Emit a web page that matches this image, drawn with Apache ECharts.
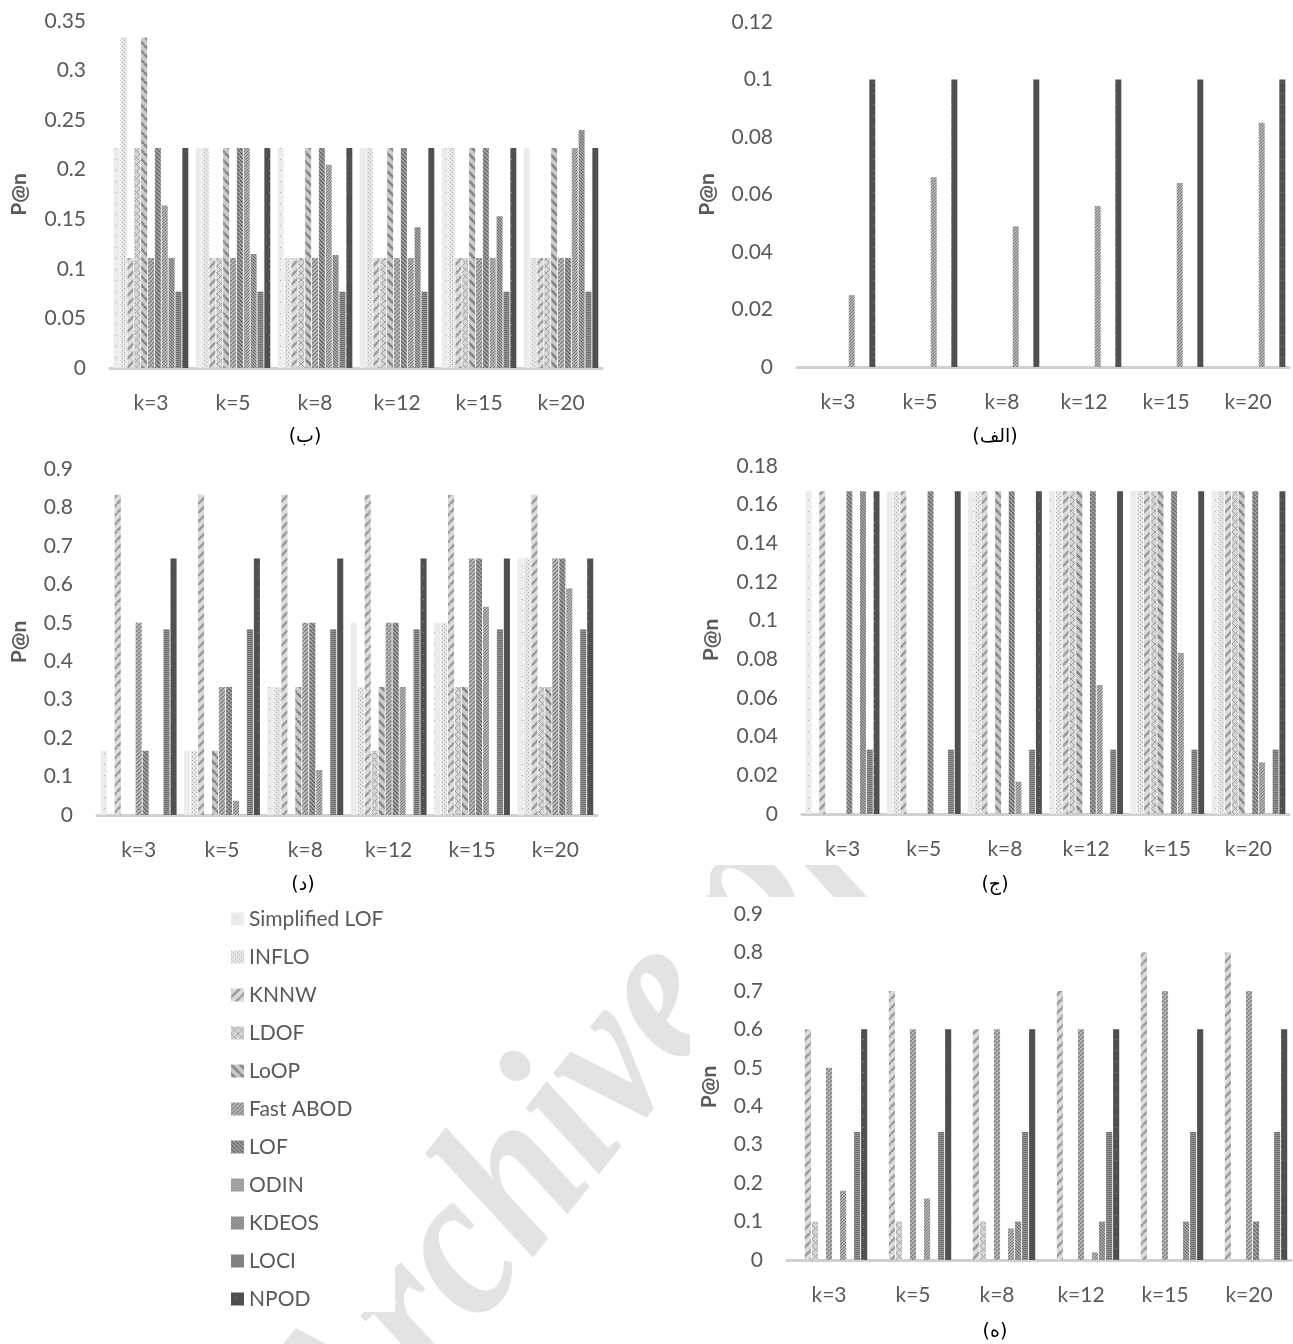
<!DOCTYPE html>
<html>
<head>
<meta charset="utf-8">
<script src="https://cdn.jsdelivr.net/npm/echarts@6/dist/echarts.min.js"></script>
<style>
html,body{margin:0;padding:0;background:#fff;}
#chart{width:1293px;height:1344px;}
</style>
</head>
<body>
<div id="chart"></div>
<script>
// ---------- data ----------
const categories = ['k=3', 'k=5', 'k=8', 'k=12', 'k=15', 'k=20'];
const methods = ['Simplified LOF', 'INFLO', 'KNNW', 'LDOF', 'LoOP', 'Fast ABOD', 'LOF', 'ODIN', 'KDEOS', 'LOCI', 'NPOD'];

// panel (ب) top-left
const valsB = [
  [0.222, 0.222, 0.222, 0.222, 0.222, 0.222],
  [0.333, 0.222, 0.111, 0.222, 0.222, 0.111],
  [0.111, 0.111, 0.111, 0.111, 0.111, 0.111],
  [0.222, 0.111, 0.111, 0.111, 0.111, 0.111],
  [0.333, 0.222, 0.222, 0.222, 0.222, 0.222],
  [0.111, 0.111, 0.111, 0.111, 0.111, 0.111],
  [0.222, 0.222, 0.222, 0.222, 0.222, 0.111],
  [0.164, 0.222, 0.205, 0.111, 0.111, 0.222],
  [0.111, 0.115, 0.114, 0.142, 0.153, 0.240],
  [0.077, 0.077, 0.077, 0.077, 0.077, 0.077],
  [0.222, 0.222, 0.222, 0.222, 0.222, 0.222]
];
// panel (الف) top-right
const valsA = [
  [0, 0, 0, 0, 0, 0],
  [0, 0, 0, 0, 0, 0],
  [0, 0, 0, 0, 0, 0],
  [0, 0, 0, 0, 0, 0],
  [0, 0, 0, 0, 0, 0],
  [0, 0, 0, 0, 0, 0],
  [0, 0, 0, 0, 0, 0],
  [0.025, 0.066, 0.049, 0.056, 0.064, 0.085],
  [0, 0, 0, 0, 0, 0],
  [0, 0, 0, 0, 0, 0],
  [0.1, 0.1, 0.1, 0.1, 0.1, 0.1]
];
// panel (د) middle-left
const valsD = [
  [0.167, 0.167, 0.333, 0.5, 0.5, 0.667],
  [0, 0.167, 0.333, 0.333, 0.5, 0.667],
  [0.833, 0.833, 0.833, 0.833, 0.833, 0.833],
  [0, 0, 0, 0.167, 0.333, 0.333],
  [0, 0.167, 0.333, 0.333, 0.333, 0.333],
  [0.5, 0.333, 0.5, 0.5, 0.667, 0.667],
  [0.167, 0.333, 0.5, 0.5, 0.667, 0.667],
  [0, 0.037, 0.117, 0.333, 0.542, 0.59],
  [0, 0, 0, 0, 0, 0],
  [0.483, 0.483, 0.483, 0.483, 0.483, 0.483],
  [0.667, 0.667, 0.667, 0.667, 0.667, 0.667]
];
// panel (ج) middle-right
const valsJ = [
  [0.167, 0.167, 0.167, 0.167, 0.167, 0.167],
  [0, 0.167, 0.167, 0.167, 0.167, 0.167],
  [0.167, 0.167, 0.167, 0.167, 0.167, 0.167],
  [0, 0, 0, 0.167, 0.167, 0.167],
  [0, 0, 0.167, 0.167, 0.167, 0.167],
  [0, 0, 0, 0, 0, 0],
  [0.167, 0.167, 0.167, 0.167, 0.167, 0.167],
  [0, 0, 0.0167, 0.0667, 0.0833, 0.0267],
  [0.167, 0, 0, 0, 0, 0],
  [0.0333, 0.0333, 0.0333, 0.0333, 0.0333, 0.0333],
  [0.167, 0.167, 0.167, 0.167, 0.167, 0.167]
];
// panel (ه) bottom-right
const valsH = [
  [0, 0, 0, 0, 0, 0],
  [0, 0, 0, 0, 0, 0],
  [0.6, 0.7, 0.6, 0.7, 0.8, 0.8],
  [0.1, 0.1, 0.1, 0, 0, 0],
  [0, 0, 0, 0, 0, 0],
  [0.5, 0.6, 0.6, 0.6, 0.7, 0.7],
  [0, 0, 0, 0, 0, 0.1],
  [0.18, 0.16, 0.082, 0.02, 0, 0],
  [0, 0, 0.1, 0.1, 0.1, 0],
  [0.333, 0.333, 0.333, 0.333, 0.333, 0.333],
  [0.6, 0.6, 0.6, 0.6, 0.6, 0.6]
];

// y tick labels of each panel
const ticksB = [0, 0.05, 0.1, 0.15, 0.2, 0.25, 0.3, 0.35];
const ticksA = [0, 0.02, 0.04, 0.06, 0.08, 0.1, 0.12];
const ticksD = [0, 0.1, 0.2, 0.3, 0.4, 0.5, 0.6, 0.7, 0.8, 0.9];
const ticksJ = [0, 0.02, 0.04, 0.06, 0.08, 0.1, 0.12, 0.14, 0.16, 0.18];
const ticksH = [0, 0.1, 0.2, 0.3, 0.4, 0.5, 0.6, 0.7, 0.8, 0.9];

const captions = ['(ب)', '(الف)', '(د)', '(ج)', '(ه)'];
const yName = 'P@n';
const watermark = 'Archive of SID';

// ---------- styles ----------
function pattern(bg, fg, kind, p, lw) {
  const c = document.createElement('canvas');
  c.width = p; c.height = p;
  const g = c.getContext('2d');
  g.fillStyle = bg; g.fillRect(0, 0, p, p);
  g.strokeStyle = fg; g.fillStyle = fg; g.lineWidth = lw;
  if (kind === 'fwd' || kind === 'cross') {
    g.beginPath();
    for (let k = -1; k <= 1; k++) { g.moveTo(k * p, p); g.lineTo(k * p + p, 0); }
    g.stroke();
  }
  if (kind === 'back' || kind === 'cross') {
    g.beginPath();
    for (let k = -1; k <= 1; k++) { g.moveTo(k * p, 0); g.lineTo(k * p + p, p); }
    g.stroke();
  }
  if (kind === 'horiz') { g.fillRect(0, 0, p, lw); }
  if (kind === 'dot') { g.fillRect(Math.floor(p / 2), Math.floor(p / 2), lw, lw); }
  if (kind === 'dots') { g.fillRect(0, 0, lw, lw); g.fillRect(p / 2, p / 2, lw, lw); }
  return { image: c, repeat: 'repeat' };
}
const fills = [
  pattern('#ececec', '#a8a8a8', 'dot', 11, 1),
  pattern('#e6e6e6', '#a9a9a9', 'dots', 4, 1),
  pattern('#dcdcdc', '#9c9c9c', 'fwd', 9, 2.6),
  pattern('#d6d6d6', '#a2a2a2', 'cross', 7, 1),
  pattern('#cacaca', '#858585', 'back', 9, 2.6),
  pattern('#c0c0c0', '#7c7c7c', 'fwd', 4, 1.3),
  pattern('#a8a8a8', '#666666', 'back', 4, 1.4),
  pattern('#b4b4b4', '#7a7a7a', 'fwd', 3, 1),
  pattern('#a3a3a3', '#6c6c6c', 'back', 3, 1),
  pattern('#959595', '#6e6e6e', 'horiz', 2, 1),
  pattern('#505050', '#8f8f8f', 'dot', 11, 1)
];

const FONT = 'Lato, "Open Sans", sans-serif';
const TXT = '#595959';
const panels = [
  { vals: valsB, ticks: ticksB, grid: { left: 110, top: 21, width: 492, height: 347 }, gap: 80, cap: [305, 437] },
  { vals: valsA, ticks: ticksA, grid: { left: 797, top: 22, width: 492, height: 345 }, gap: 79, cap: [995, 437] },
  { vals: valsD, ticks: ticksD, grid: { left: 97, top: 469, width: 500, height: 346 }, gap: 67, cap: [303, 885] },
  { vals: valsJ, ticks: ticksJ, grid: { left: 802, top: 466, width: 487, height: 348 }, gap: 80, cap: [995, 885] },
  { vals: valsH, ticks: ticksH, grid: { left: 787, top: 914, width: 504, height: 346 }, gap: 67, cap: [995, 1332] }
];

const grid = [], xAxis = [], yAxis = [], series = [];
panels.forEach((p, i) => {
  grid.push(Object.assign({ containLabel: false }, p.grid));
  xAxis.push({
    type: 'category', gridIndex: i, data: categories,
    axisTick: { show: false },
    axisLine: { lineStyle: { color: '#d0d0d0', width: 3 } },
    axisLabel: { color: TXT, fontSize: 21, fontFamily: FONT, margin: 25, interval: 0 }
  });
  const t = p.ticks;
  yAxis.push({
    type: 'value', gridIndex: i,
    min: t[0], max: t[t.length - 1], interval: +(t[1] - t[0]).toFixed(4),
    axisLine: { show: false }, axisTick: { show: false }, splitLine: { show: false },
    axisLabel: { color: TXT, fontSize: 21, fontFamily: FONT, margin: 24 },
    name: yName, nameLocation: 'middle', nameGap: p.gap, nameRotate: 90,
    nameTextStyle: { color: TXT, fontSize: 21, fontWeight: 'bold', fontFamily: FONT }
  });
  methods.forEach((m, j) => {
    series.push({
      type: 'bar', name: m, xAxisIndex: i, yAxisIndex: i,
      data: p.vals[j],
      itemStyle: { color: fills[j] },
      barGap: '15%', barCategoryGap: '9%',
      silent: true
    });
  });
});

const graphic = [
  {
    type: 'text', z: -10, x: 395, y: 1515, rotation: 0.9, scaleX: 0.88, scaleY: 1,
    style: { text: watermark, font: 'italic bold 215px "Liberation Serif"', fill: '#e3e3e3', align: 'left', verticalAlign: 'bottom' }
  },
  { type: 'rect', z: -5, shape: { x: 0, y: 0, width: 1293, height: 865 }, style: { fill: '#fff' } },
  { type: 'rect', z: -5, shape: { x: 690, y: 865, width: 20, height: 30 }, style: { fill: '#fff' } },
  { type: 'rect', z: -5, shape: { x: 690, y: 897, width: 603, height: 447 }, style: { fill: '#fff' } },
  { type: 'rect', z: -5, shape: { x: 215, y: 900, width: 180, height: 412 }, style: { fill: '#fff' } }
];
panels.forEach((p, i) => {
  graphic.push({
    type: 'text', z: 5, x: p.cap[0], y: p.cap[1],
    style: { text: captions[i], font: '19px "DejaVu Sans"', fill: '#000', align: 'center', verticalAlign: 'middle' }
  });
});

const chart = echarts.init(document.getElementById('chart'), null, { renderer: 'canvas' });
chart.setOption({
  animation: false,
  backgroundColor: '#fff',
  grid, xAxis, yAxis, series, graphic,
  legend: {
    data: methods, orient: 'vertical', left: 226, top: 902,
    icon: 'rect', itemWidth: 13, itemHeight: 13, itemGap: 14,
    selectedMode: false,
    textStyle: { color: TXT, fontSize: 21, fontFamily: FONT, lineHeight: 24 }
  }
});
</script>
</body>
</html>
